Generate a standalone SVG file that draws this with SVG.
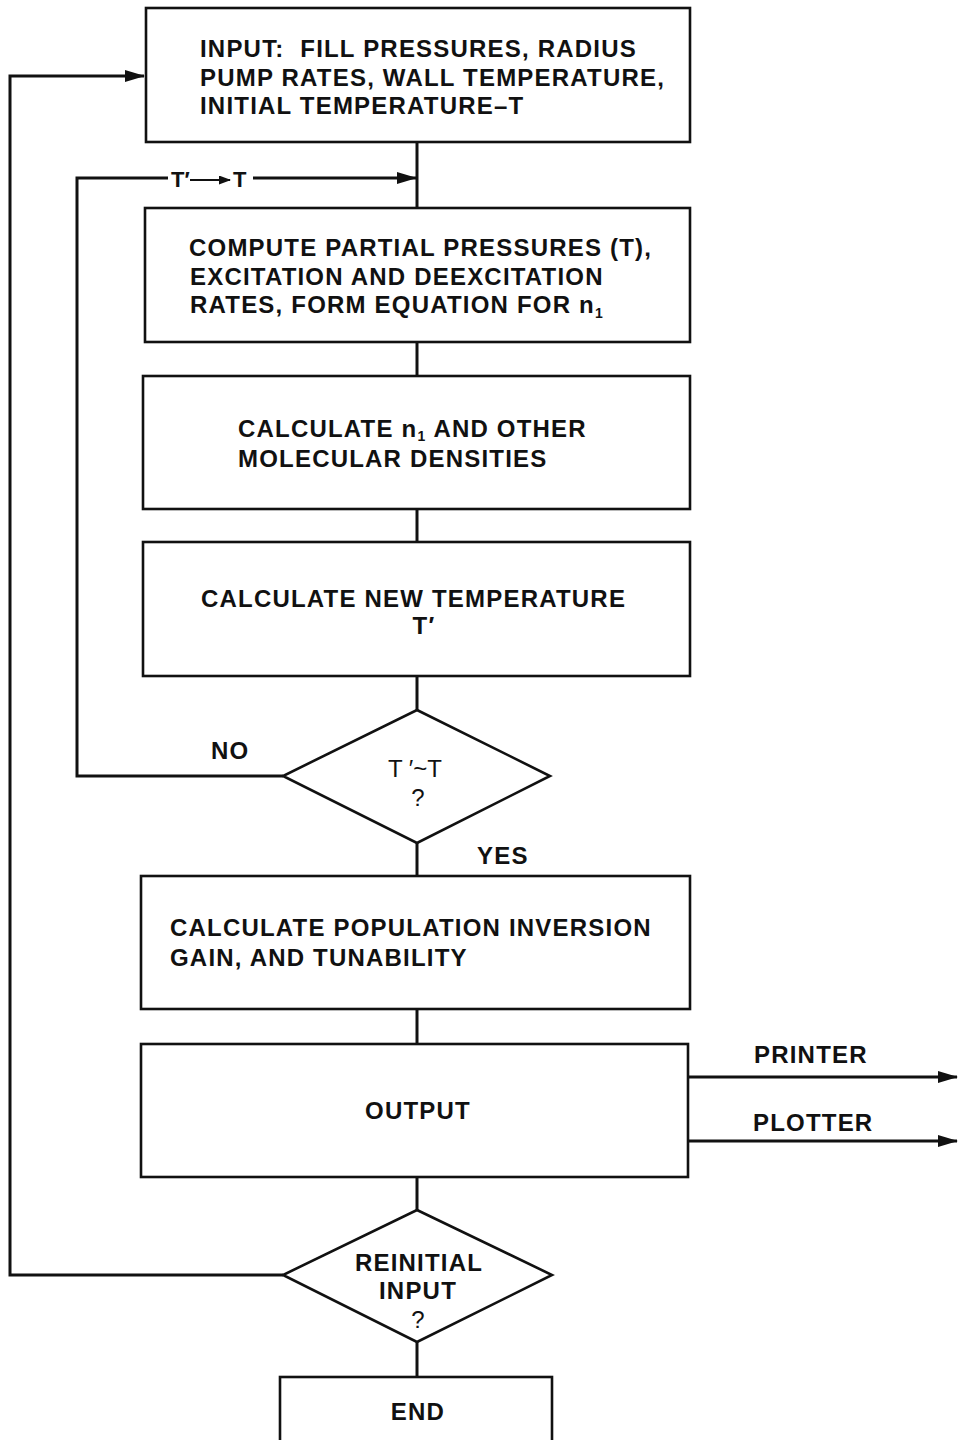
<svg xmlns="http://www.w3.org/2000/svg" width="958" height="1440" viewBox="0 0 958 1440">
<defs>
<marker id="arr" markerWidth="20" markerHeight="12" refX="19" refY="6" orient="auto" markerUnits="userSpaceOnUse">
<path d="M0,0 L20,6 L0,12 Z" fill="#111"/>
</marker>
<marker id="arrs" markerWidth="12" markerHeight="9" refX="11" refY="4.5" orient="auto" markerUnits="userSpaceOnUse">
<path d="M0,0 L12,4.5 L0,9 Z" fill="#111"/>
</marker>
<style>
.box{fill:#fff;stroke:#111;stroke-width:2.6}
.ln{fill:none;stroke:#111;stroke-width:3}
.t{font-family:"Liberation Sans",Arial,sans-serif;font-weight:bold;font-size:24px;letter-spacing:1.2px;fill:#111}
.c{text-anchor:middle}
.r{font-family:"Liberation Sans",Arial,sans-serif;font-size:24px;fill:#111;text-anchor:middle}
.sub{font-size:14px}
</style>
</defs>
<rect width="958" height="1440" fill="#fff"/>
<g id="connectors">
<line class="ln" x1="417" y1="142" x2="417" y2="208"/>
<polyline class="ln" points="283,776 77,776 77,178 168,178"/>
<line class="ln" x1="253" y1="178" x2="416" y2="178" marker-end="url(#arr)"/>
<line class="ln" x1="417" y1="342" x2="417" y2="376"/>
<line class="ln" x1="417" y1="509" x2="417" y2="542"/>
<line class="ln" x1="417" y1="676" x2="417" y2="710"/>
<line class="ln" x1="417" y1="843" x2="417" y2="876"/>
<line class="ln" x1="417" y1="1009" x2="417" y2="1044"/>
<line class="ln" x1="417" y1="1177" x2="417" y2="1210"/>
<line class="ln" x1="417" y1="1342" x2="417" y2="1377"/>
<polyline class="ln" points="283,1275 10,1275 10,76 144,76" marker-end="url(#arr)"/>
<line class="ln" x1="688" y1="1077" x2="957" y2="1077" marker-end="url(#arr)"/>
<line class="ln" x1="688" y1="1141" x2="957" y2="1141" marker-end="url(#arr)"/>
<text class="t" x="171" y="187" style="font-size:22px;letter-spacing:0">T′</text>
<line x1="190" y1="180" x2="230" y2="180" stroke="#111" stroke-width="2.2" marker-end="url(#arrs)"/>
<text class="t" x="233" y="187" style="font-size:22px;letter-spacing:0">T</text>
<text class="t" x="211" y="759">NO</text>
<text class="t" x="477" y="864">YES</text>
<text class="t" x="754" y="1063">PRINTER</text>
<text class="t" x="753" y="1131">PLOTTER</text>
</g>
<g id="input">
<rect class="box" x="146" y="8" width="544" height="134"/>
<text class="t" x="200" y="57" xml:space="preserve">INPUT:  FILL PRESSURES, RADIUS</text>
<text class="t" x="200" y="86">PUMP RATES, WALL TEMPERATURE,</text>
<text class="t" x="200" y="114">INITIAL TEMPERATURE–T</text>
</g>
<g id="compute">
<rect class="box" x="145" y="208" width="545" height="134"/>
<text class="t" x="189" y="256">COMPUTE PARTIAL PRESSURES (T),</text>
<text class="t" x="190" y="285">EXCITATION AND DEEXCITATION</text>
<text class="t" x="190" y="313">RATES, FORM EQUATION FOR n<tspan class="sub" dy="5">1</tspan></text>
</g>
<g id="calc-n1">
<rect class="box" x="143" y="376" width="547" height="133"/>
<text class="t" x="238" y="437">CALCULATE n<tspan class="sub" dy="4">1</tspan><tspan dy="-4"> AND OTHER</tspan></text>
<text class="t" x="238" y="467">MOLECULAR DENSITIES</text>
</g>
<g id="calc-temp">
<rect class="box" x="143" y="542" width="547" height="134"/>
<text class="t" x="201" y="607">CALCULATE NEW TEMPERATURE</text>
<text class="t c" x="424" y="634">T′</text>
</g>
<g id="decision-t">
<polygon class="box" points="417,710 550,776 417,843 283,776"/>
<text class="r" x="415" y="777">T ′~T</text>
<text class="r" x="418" y="806">?</text>
</g>
<g id="calc-pop">
<rect class="box" x="141" y="876" width="549" height="133"/>
<text class="t" x="170" y="936">CALCULATE POPULATION INVERSION</text>
<text class="t" x="170" y="966">GAIN, AND TUNABILITY</text>
</g>
<g id="output">
<rect class="box" x="141" y="1044" width="547" height="133"/>
<text class="t c" x="418" y="1119">OUTPUT</text>
</g>
<g id="decision-reinit">
<polygon class="box" points="417,1210 552,1275 417,1342 283,1275"/>
<text class="t c" x="419" y="1271">REINITIAL</text>
<text class="t c" x="418" y="1299">INPUT</text>
<text class="r" x="418" y="1328">?</text>
</g>
<g id="end">
<rect class="box" x="280" y="1377" width="272" height="80"/>
<text class="t c" x="418" y="1420">END</text>
</g>
</svg>
